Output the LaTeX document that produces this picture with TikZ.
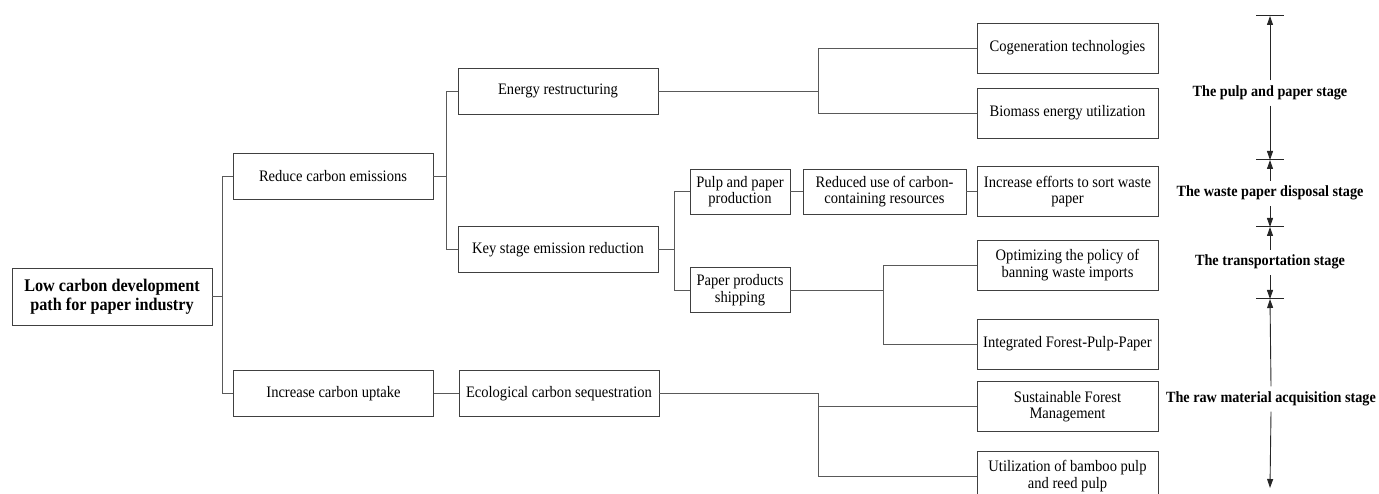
\documentclass[tikz,border=0pt]{standalone}
\usepackage{fontspec}
\setmainfont{Liberation Serif}[FakeStretch=0.91]
\usetikzlibrary{arrows.meta}
\begin{document}
\begin{tikzpicture}[x=1pt,y=-1pt,
  box/.style={draw=black!75, line width=0.9pt, align=center, inner sep=0pt, font=\fontsize{16}{16.5}\selectfont},
  wbox/.style={box, minimum width=200pt, minimum height=46pt},
  mbox/.style={box, minimum width=100pt, minimum height=45pt},
  rbox/.style={box, minimum width=181pt, minimum height=50pt},
  conn/.style={draw=black!65, line width=0.9pt},
  stagelbl/.style={font=\fontsize{15.6}{17}\selectfont\bfseries, inner sep=0pt, text height=10pt, text depth=3pt, minimum height=25pt},
  stagearr/.style={draw=black!85, line width=0.9pt, -{Triangle[length=9pt,width=6pt]}},
  tickline/.style={draw=black!85, line width=1pt}]
\useasboundingbox (0,0) rectangle (1379,494);

% bus x positions
\coordinate (b1) at (222,0);
\coordinate (b2) at (446,0);
\coordinate (b3) at (818,0);
\coordinate (b4) at (674,0);
\coordinate (b5) at (883,0);
\coordinate (b6) at (818,0);

% nodes
\node[box, minimum width=200pt, minimum height=57pt, font=\fontsize{17.8}{19.5}\selectfont\bfseries] (root) at (112,296.5) {Low carbon development\\path for paper industry};
\node[wbox] (reduce) at (333,176) {Reduce carbon emissions};
\node[wbox] (uptake) at (333.5,393.5) {Increase carbon uptake};
\node[wbox] (energy) at (558,91) {Energy restructuring};
\node[wbox] (key) at (558,249.5) {Key stage emission reduction};
\node[wbox] (eco) at (559,393.5) {Ecological carbon sequestration};
\node[mbox] (pulp) at (740,191.5) {Pulp and paper\\production};
\node[mbox] (ship) at (740,290) {Paper products\\shipping};
\node[box, minimum width=163pt, minimum height=45pt] (reduced) at (884.5,191.5) {Reduced use of carbon-\\containing resources};
\node[rbox] (cog) at (1067.5,48) {Cogeneration technologies};
\node[rbox] (bio) at (1067.5,113) {Biomass energy utilization};
\node[rbox] (sort) at (1067.5,191.5) {Increase efforts to sort waste\\paper};
\node[rbox] (opt) at (1067.5,265) {Optimizing the policy of\\banning waste imports};
\node[rbox] (integ) at (1067.5,344) {Integrated Forest-Pulp-Paper};
\node[rbox] (sust) at (1067.5,406.5) {Sustainable Forest\\Management};
\node[rbox] (util) at (1067.5,476) {Utilization of bamboo pulp\\and reed pulp};

% connectors
\draw[conn] (root.east) -- (root.east -| b1);
\draw[conn] (reduce.west) -- (reduce.west -| b1) -- (uptake.west -| b1) -- (uptake.west);

\draw[conn] (reduce.east) -- (reduce.east -| b2);
\draw[conn] (energy.west) -- (energy.west -| b2) -- (key.west -| b2) -- (key.west);

\draw[conn] (energy.east) -- (energy.east -| b3);
\draw[conn] (cog.west) -- (cog.west -| b3) -- (bio.west -| b3) -- (bio.west);

\draw[conn] (key.east) -- (key.east -| b4);
\draw[conn] (pulp.west) -- (pulp.west -| b4) -- (ship.west -| b4) -- (ship.west);

\draw[conn] (pulp.east) -- (reduced.west);
\draw[conn] (reduced.east) -- (sort.west);

\draw[conn] (ship.east) -- (ship.east -| b5);
\draw[conn] (opt.west) -- (opt.west -| b5) -- (integ.west -| b5) -- (integ.west);

\draw[conn] (uptake.east) -- (eco.west);
\draw[conn] (eco.east) -- (eco.east -| b6) -- (util.west -| b6) -- (util.west);
\draw[conn] (sust.west) -- (sust.west -| b6);

% stage column
\coordinate (t1) at (1270,16);
\coordinate (t2) at (1270,160);
\coordinate (t3) at (1270,227);
\coordinate (t4) at (1270,299);
\coordinate (tend) at (1270,488);

\node[stagelbl] (s1) at (1270,93) {The pulp and paper stage};
\node[stagelbl] (s2) at (1270,193.5) {The waste paper disposal stage};
\node[stagelbl] (s3) at (1270,262.5) {The transportation stage};
\node[stagelbl] (s4) at (1271,399) {The raw material acquisition stage};

\foreach \t in {t1,t2,t3,t4}
  \draw[tickline] ([xshift=-14pt]\t) -- ([xshift=14pt]\t);

\draw[stagearr] (s1.north) -- (t1);
\draw[stagearr] (s1.south) -- (t2);
\draw[stagearr] (s2.north) -- (t2);
\draw[stagearr] (s2.south) -- (t3);
\draw[stagearr] (s3.north) -- (t3);
\draw[stagearr] (s3.south) -- (t4);
\draw[stagearr] (s4.north) -- (t4);
\draw[stagearr] (s4.south) -- (tend);
\end{tikzpicture}
\end{document}
